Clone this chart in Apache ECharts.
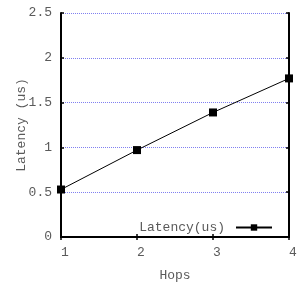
<!DOCTYPE html>
<html>
<head>
<meta charset="utf-8">
<script src="https://cdn.jsdelivr.net/npm/echarts@6/dist/echarts.min.js"></script>
<style>
  html, body { margin: 0; padding: 0; background: #fff; }
  #chart { width: 300px; height: 287px; }
</style>
</head>
<body>
<div id="chart"></div>
<script>
  var hops = [1, 2, 3, 4]
  var latency = [0.53, 0.97, 1.39, 1.77]
  var seriesName = 'Latency(us)'

  var font = 'Liberation Mono'
  var textGrey = '#5a5a5a'

  var chart = echarts.init(document.getElementById('chart'))

  var option = {
    animation: false,
    grid: { left: 61, top: 13, right: 11, bottom: 48 },
    legend: {
      data: [seriesName],
      right: 22,
      top: 216,
      align: 'right',
      itemWidth: 36,
      itemHeight: 8,
      textStyle: { fontFamily: font, fontSize: 13, color: textGrey, padding: [0, 6, 0, 0] }
    },
    xAxis: [
      {
        type: 'value', min: 1, max: 4, interval: 1,
        name: 'Hops', nameLocation: 'middle', nameGap: 32, nameMoveOverlap: false,
        nameTextStyle: { fontFamily: font, fontSize: 13, color: textGrey },
        axisLine: { lineStyle: { color: '#000', width: 2 } },
        axisTick: { inside: true, length: 3, lineStyle: { color: '#000', width: 1.5 } },
        axisLabel: { fontFamily: font, fontSize: 13, color: textGrey, margin: 9, padding: [0, 0, 0, 8] },
        splitLine: { show: false }
      },
      {
        type: 'value', min: 1, max: 4, interval: 1, position: 'top',
        axisLine: { lineStyle: { color: '#000', width: 2 } },
        axisTick: { inside: true, length: 3, lineStyle: { color: '#000', width: 1.5 } },
        axisLabel: { show: false },
        splitLine: { show: false }
      }
    ],
    yAxis: [
      {
        type: 'value', min: 0, max: 2.5, interval: 0.5,
        name: 'Latency (us)', nameLocation: 'middle', nameGap: 33, nameMoveOverlap: false,
        nameTextStyle: { fontFamily: font, fontSize: 13, color: textGrey },
        axisLine: { show: true, lineStyle: { color: '#000', width: 2 } },
        axisTick: { show: true, inside: true, length: 3, lineStyle: { color: '#000', width: 1.5 } },
        axisLabel: { fontFamily: font, fontSize: 13, color: textGrey, margin: 9 },
        splitLine: { show: true, lineStyle: { color: '#8080f0', type: 'dotted', width: 1 } }
      },
      {
        type: 'value', min: 0, max: 2.5, interval: 0.5, position: 'right',
        axisLine: { show: true, lineStyle: { color: '#000', width: 2 } },
        axisTick: { show: true, inside: true, length: 3, lineStyle: { color: '#000', width: 1.5 } },
        axisLabel: { show: false },
        splitLine: { show: false }
      }
    ],
    series: [
      {
        name: seriesName,
        type: 'line',
        data: hops.map(function (h, i) { return [h, latency[i]] }),
        symbol: 'rect',
        symbolSize: 8,
        itemStyle: { color: '#000' },
        lineStyle: { color: '#000', width: 1 }
      }
    ]
  }

  chart.setOption(option)
</script>
</body>
</html>
